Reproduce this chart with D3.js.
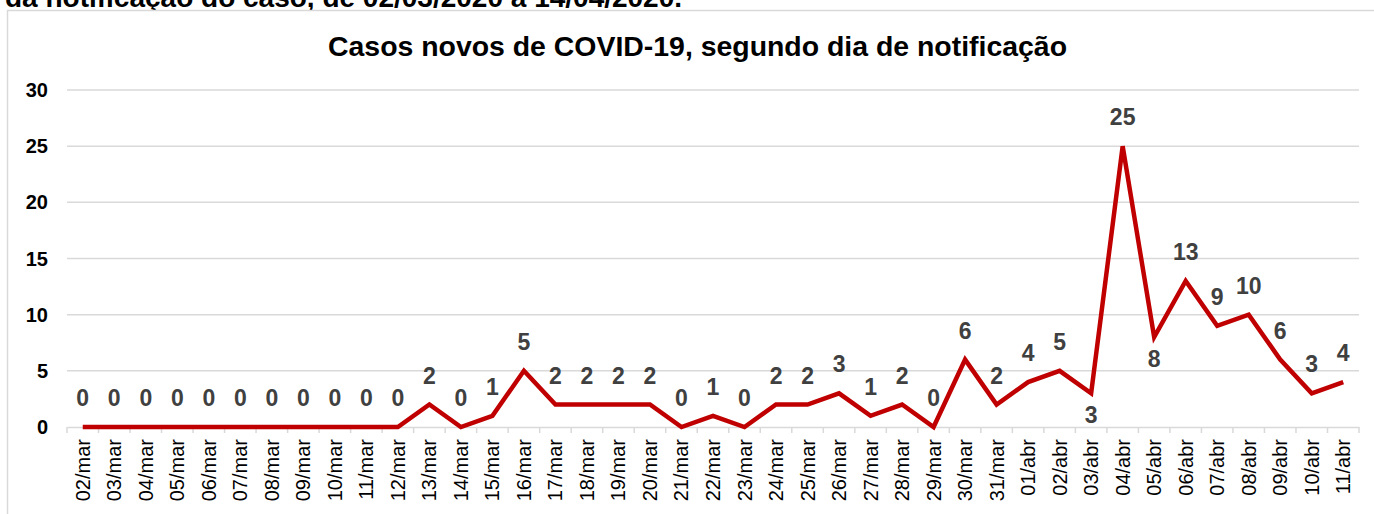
<!DOCTYPE html>
<html><head><meta charset="utf-8">
<script src="https://cdn.jsdelivr.net/npm/d3@7"></script>
<style>body{margin:0;background:#fff;}svg{display:block;font-family:Arial,"Liberation Sans",sans-serif;}</style>
</head><body>
<svg id="c" width="1374" height="514"></svg>
<script>
const categories = ["02/mar","03/mar","04/mar","05/mar","06/mar","07/mar","08/mar","09/mar","10/mar","11/mar","12/mar","13/mar","14/mar","15/mar","16/mar","17/mar","18/mar","19/mar","20/mar","21/mar","22/mar","23/mar","24/mar","25/mar","26/mar","27/mar","28/mar","29/mar","30/mar","31/mar","01/abr","02/abr","03/abr","04/abr","05/abr","06/abr","07/abr","08/abr","09/abr","10/abr","11/abr"];
const values = [0,0,0,0,0,0,0,0,0,0,0,2,0,1,5,2,2,2,2,0,1,0,2,2,3,1,2,0,6,2,4,5,3,25,8,13,9,10,6,3,4];
const labelsBelow = ["03/abr","05/abr"];
const yTicks = [0,5,10,15,20,25,30];
const title = "Casos novos de COVID-19, segundo dia de notificação";
const topText = "da notificação do caso, de 02/03/2020 a 14/04/2020.";

const svg = d3.select("#c");
svg.append("text").attr("x",5).attr("y",7).attr("font-size",28).attr("font-weight","bold").attr("fill","#000").text(topText);
svg.append("rect").attr("x",7.5).attr("y",10.5).attr("width",1380).attr("height",520).attr("fill","#fff").attr("stroke","#d9d9d9").attr("stroke-width",1.5);
svg.append("text").attr("x",328).attr("y",56).attr("font-size",27).attr("font-weight","bold").attr("fill","#000")
 .attr("textLength",739).attr("lengthAdjust","spacingAndGlyphs").text(title);

const x = d3.scaleBand().domain(categories).range([67,1359]);
const y = d3.scaleLinear().domain([0,30]).range([427,90]);

const g = svg.append("g");
g.selectAll("line.grid").data(yTicks.filter(d=>d>0)).join("line")
 .attr("x1",67).attr("x2",1359).attr("y1",d=>y(d)).attr("y2",d=>y(d))
 .attr("stroke","#d9d9d9").attr("stroke-width",1.5);
g.selectAll("text.yt").data(yTicks).join("text")
 .attr("x",48).attr("y",d=>y(d)).attr("dy","0.35em").attr("text-anchor","end")
 .attr("font-size",20).attr("font-weight","bold").attr("fill","#000").text(d=>d);

// x axis
const xa = svg.append("g").attr("transform","translate(0,427)")
 .call(d3.axisBottom(x).tickSize(0).tickSizeOuter(0));
xa.select(".domain").attr("stroke","#d9d9d9").attr("stroke-width",1.5);
xa.selectAll(".tick text").attr("font-size",20).attr("fill","#000")
 .attr("font-family","Arial, 'Liberation Sans', sans-serif")
 .attr("transform","rotate(-90)").attr("text-anchor","end").attr("x",-12).attr("y",0).attr("dy","0.35em");
const bounds = categories.map(c=>x(c)).concat([x.range()[1]]);
svg.append("g").selectAll("line").data(bounds).join("line")
 .attr("x1",d=>d).attr("x2",d=>d).attr("y1",427).attr("y2",433)
 .attr("stroke","#d9d9d9").attr("stroke-width",1.5);

const cx = d=>x(d)+x.bandwidth()/2;
const line = d3.line().x((d,i)=>cx(categories[i])).y(d=>y(d));
svg.append("path").datum(values).attr("d",line).attr("fill","none")
 .attr("stroke","#c00000").attr("stroke-width",4.5).attr("stroke-linejoin","miter");

svg.append("g").selectAll("text").data(values).join("text")
 .attr("x",(d,i)=>cx(categories[i]))
 .attr("y",(d,i)=> labelsBelow.includes(categories[i]) ? y(d)+22 : y(d)-29)
 .attr("dy","0.35em").attr("text-anchor","middle")
 .attr("font-size",23).attr("font-weight","bold").attr("fill","#404040").text(d=>d);
</script>
</body></html>
